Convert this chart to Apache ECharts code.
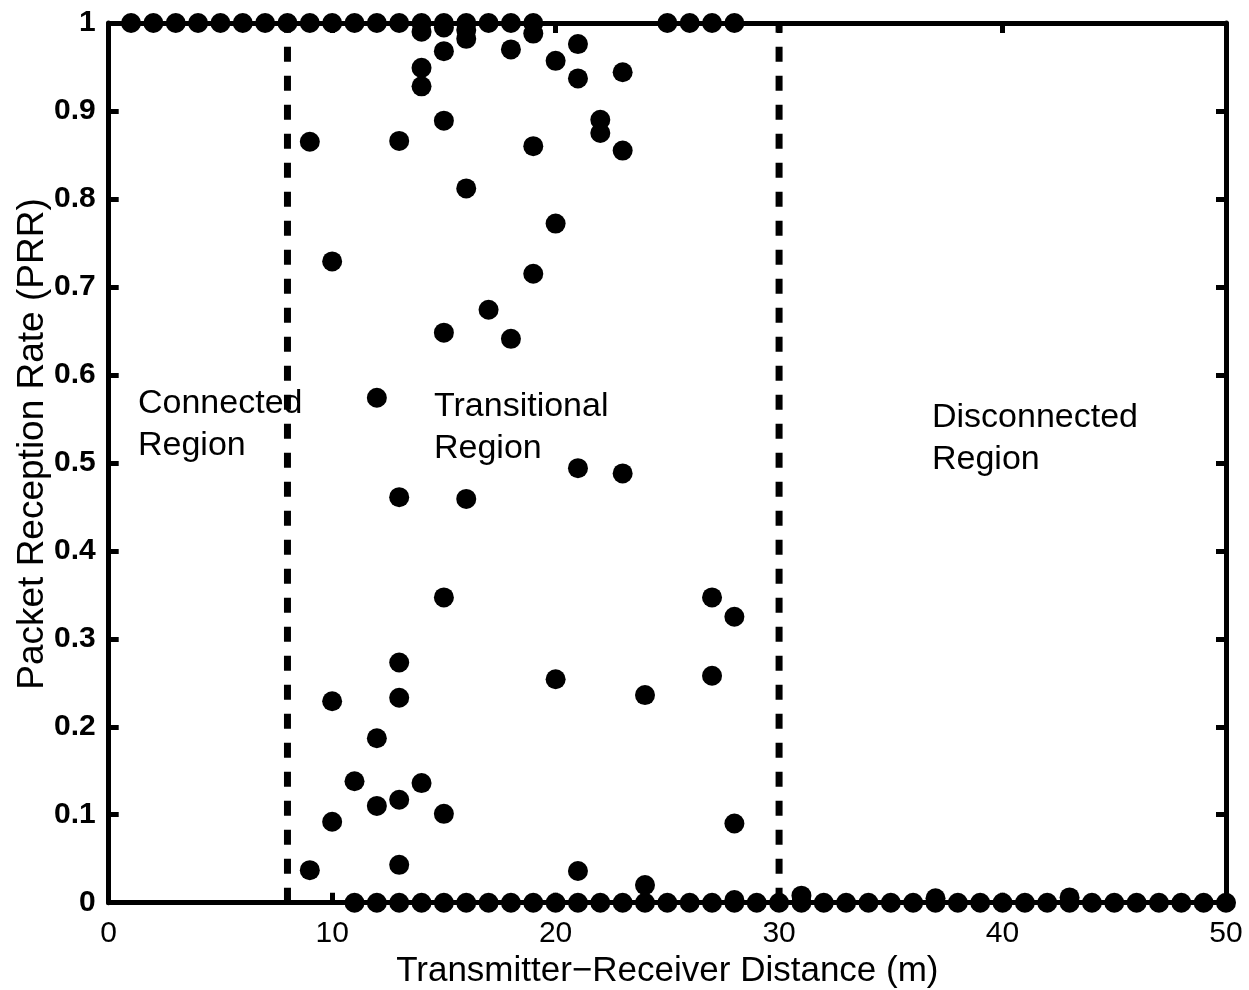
<!DOCTYPE html>
<html>
<head>
<meta charset="utf-8">
<title>PRR vs distance</title>
<script src="https://cdn.jsdelivr.net/npm/echarts@6/dist/echarts.min.js"></script>
<style>
  html, body { margin: 0; padding: 0; background: #fff; }
  #chart { width: 1249px; height: 990px; }
</style>
</head>
<body>
<div id="chart"></div>
<script>
// links that received every packet
const fullX = [1, 2, 3, 4, 5, 6, 7, 8, 9, 10, 11, 12, 13, 14, 15, 16, 17, 18, 19, 25, 26, 27, 28];
// links that received nothing
const zeroX = [11, 12, 13, 14, 15, 16, 17, 18, 19, 20, 21, 22, 23, 24, 25, 26, 27, 28, 29, 30,
  31, 32, 33, 34, 35, 36, 37, 38, 39, 40, 41, 42, 43, 44, 45, 46, 47, 48, 49, 50];
// everything in between
const midX = [9, 9, 10, 10, 10, 11, 12, 12, 12, 13, 13, 13, 13, 13, 13,
  14, 14, 14, 14, 15, 15, 15, 15, 15, 15, 16, 16, 16, 16, 17, 18, 18,
  19, 19, 19, 20, 20, 20, 21, 21, 21, 21, 22, 22, 23, 23, 23, 24, 24,
  27, 27, 28, 28, 28, 31, 37, 43];
const midY = [0.865, 0.037, 0.729, 0.229, 0.092, 0.138, 0.574, 0.187, 0.110,
  0.866, 0.461, 0.273, 0.233, 0.117, 0.043,
  0.990, 0.949, 0.928, 0.136, 0.995, 0.968, 0.889, 0.648, 0.347, 0.101,
  0.992, 0.982, 0.812, 0.459, 0.674, 0.970, 0.641,
  0.988, 0.860, 0.715, 0.957, 0.772, 0.254, 0.976, 0.937, 0.494, 0.036,
  0.890, 0.875, 0.944, 0.855, 0.488, 0.236, 0.020,
  0.347, 0.258, 0.325, 0.090, 0.003, 0.008, 0.005, 0.006];
const boundaries = [8, 30];
const regionLabels = ['Connected\nRegion', 'Transitional\nRegion', 'Disconnected\nRegion'];

let points = [];
fullX.forEach(x => points.push([x, 1]));
zeroX.forEach(x => points.push([x, 0]));
midX.forEach((x, i) => points.push([x, midY[i]]));

const font = 'Liberation Sans, Helvetica, Arial, sans-serif';
const black = '#000';

let chart = echarts.init(document.getElementById('chart'));

const axisBase = {
  type: 'value',
  splitLine: { show: false },
  axisLine: { show: true, onZero: false, lineStyle: { color: black, width: 5 } },
  axisTick: { show: true, inside: true, length: 10, lineStyle: { color: black, width: 5 } }
};

let lines = boundaries.map(b => ({
  type: 'line',
  data: [[b, 0], [b, 1]],
  symbol: 'none',
  silent: true,
  z: 1,
  lineStyle: { color: black, width: 7, type: [15, 14], opacity: 1 }
}));

let option = {
  animation: false,
  backgroundColor: '#fff',
  grid: { left: 108.7, right: 23, top: 23, bottom: 87.3, outerBoundsMode: 'none', containLabel: false },
  xAxis: [
    Object.assign({}, axisBase, {
      min: 0, max: 50, interval: 10,
      axisLabel: { color: black, fontFamily: font, fontSize: 30, margin: 16 },
      name: 'Transmitter\u2212Receiver Distance (m)',
      nameLocation: 'middle',
      nameGap: 49,
      nameTextStyle: { color: black, fontFamily: font, fontSize: 35 }
    }),
    Object.assign({}, axisBase, {
      position: 'top', min: 0, max: 50, interval: 10,
      axisLabel: { show: false }
    })
  ],
  yAxis: [
    Object.assign({}, axisBase, {
      min: 0, max: 1, interval: 0.1,
      axisLabel: { color: black, fontFamily: font, fontSize: 30, fontWeight: 'bold', margin: 13 }
    }),
    Object.assign({}, axisBase, {
      position: 'right', min: 0, max: 1, interval: 0.1,
      axisLabel: { show: false }
    })
  ],
  graphic: [
    { type: 'text', x: 33, y: 444, rotation: Math.PI / 2, z: 10,
      style: { text: 'Packet Reception Rate (PRR)', fill: black, font: '37px ' + font,
        align: 'center', verticalAlign: 'middle' } },
    { type: 'text', left: 138, top: 383, z: 10,
      style: { text: regionLabels[0], fill: black, font: '34px ' + font, lineHeight: 42 } },
    { type: 'text', left: 434, top: 386, z: 10,
      style: { text: regionLabels[1], fill: black, font: '34px ' + font, lineHeight: 42 } },
    { type: 'text', left: 932, top: 397, z: 10,
      style: { text: regionLabels[2], fill: black, font: '34px ' + font, lineHeight: 42 } }
  ],
  series: lines.concat([{
    type: 'scatter',
    data: points,
    symbol: 'circle',
    symbolSize: 20,
    clip: false,
    z: 3,
    itemStyle: { color: black, opacity: 1 }
  }])
};

chart.setOption(option);
</script>
</body>
</html>
